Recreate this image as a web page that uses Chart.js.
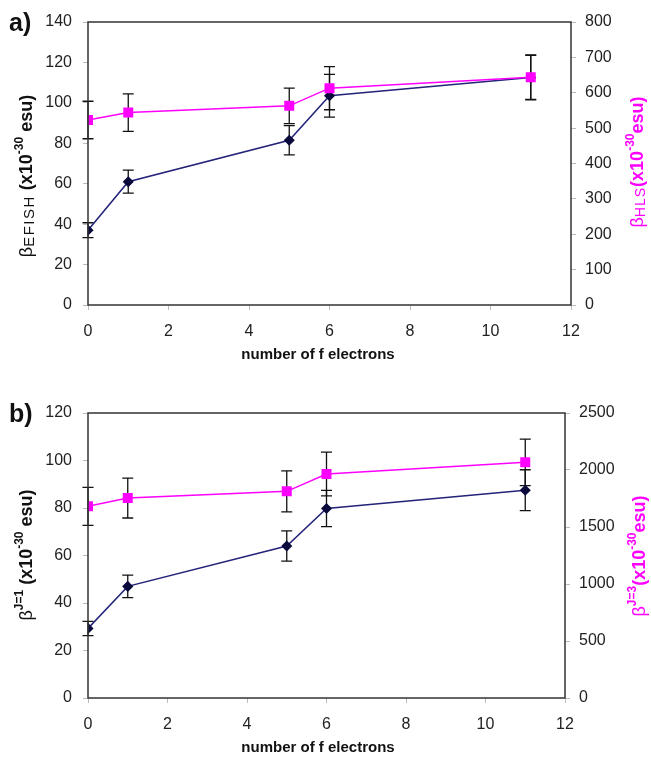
<!DOCTYPE html>
<html>
<head>
<meta charset="utf-8">
<script src="https://cdn.jsdelivr.net/npm/chart.js@4.4.1/dist/chart.umd.min.js"></script>
<style>
  body { margin: 0; background: #fff; }
  .panel { position: absolute; left: 0; width: 651px; }
  #wrapA { top: 0; height: 365px; }
  #wrapB { top: 365px; height: 400px; }
</style>
</head>
<body>
<div class="panel" id="wrapA"><canvas id="chartA"></canvas></div>
<div class="panel" id="wrapB"><canvas id="chartB"></canvas></div>
<script>
// number of f electrons
const fElectrons = [0, 1, 5, 6, 11];

// panel a
const betaEFISH = [37, 61, 81.5, 103.5, 112.5];
const betaEFISHErr = [3.7, 5.7, 7.2, 10.6, 11];
const betaHLS = [523, 544, 563, 613, 644];
const betaHLSErr = [53, 53, 50, 61, 63];

// panel b
const betaJ1 = [29.3, 47, 64, 79.8, 87.5];
const betaJ1Err = [3, 4.7, 6.4, 7.6, 8.6];
const betaJ3 = [1681, 1754, 1813, 1965, 2067];
const betaJ3Err = [167, 175, 180, 192, 204];

const FONT = '"Liberation Sans", Arial, sans-serif';
const NAVY_LINE = '#23237a';
const NAVY_DOT = '#0a0a3c';
const MAGENTA = '#ff00ff';

function points(ys) {
    return fElectrons.map((x, i) => ({ x: x, y: ys[i] }));
}

// draws a line of text made of pieces (sub/superscripts), centered at x,y
function drawRich(ctx, pieces, x, y, rot, color) {
    ctx.save();
    ctx.translate(x, y);
    ctx.rotate(rot);
    ctx.fillStyle = color;
    ctx.textBaseline = 'middle';
    ctx.textAlign = 'left';
    const widthOf = p => {
        ctx.font = p.font;
        const sp = p.spacing || 0;
        return ctx.measureText(p.text).width + sp * p.text.length;
    };
    let total = 0;
    pieces.forEach(p => { total += widthOf(p); });
    let cx = -total / 2;
    pieces.forEach(p => {
        ctx.font = p.font;
        if (p.spacing) {
            for (const ch of p.text) {
                ctx.fillText(ch, cx, p.dy || 0);
                cx += ctx.measureText(ch).width + p.spacing;
            }
        } else {
            ctx.fillText(p.text, cx, p.dy || 0);
            cx += ctx.measureText(p.text).width;
        }
    });
    ctx.restore();
}

const errorBars = {
    id: 'errorBars',
    beforeDatasetsDraw(chart) {
        const ctx = chart.ctx;
        const xs = chart.scales.x;
        ctx.save();
        ctx.strokeStyle = '#111';
        ctx.lineWidth = 1.3;
        chart.data.datasets.forEach(ds => {
            const ys = chart.scales[ds.yAxisID];
            ds.data.forEach((p, i) => {
                const e = ds.err[i];
                const px = xs.getPixelForValue(p.x);
                const top = ys.getPixelForValue(p.y + e);
                const bot = ys.getPixelForValue(p.y - e);
                ctx.beginPath();
                ctx.moveTo(px, top); ctx.lineTo(px, bot);
                ctx.moveTo(px - 5.5, top); ctx.lineTo(px + 5.5, top);
                ctx.moveTo(px - 5.5, bot); ctx.lineTo(px + 5.5, bot);
                ctx.stroke();
            });
        });
        ctx.restore();
    }
};

const frameAndText = {
    id: 'frameAndText',
    afterDraw(chart) {
        const ctx = chart.ctx;
        const a = chart.chartArea;
        const o = chart.options.plugins.frameAndText;
        ctx.save();
        ctx.strokeStyle = '#333';
        ctx.lineWidth = 1.5;
        ctx.strokeRect(a.left, a.top, a.right - a.left, a.bottom - a.top);
        ctx.fillStyle = '#111';
        ctx.font = 'bold 25px ' + FONT;
        ctx.textBaseline = 'middle';
        ctx.textAlign = 'left';
        ctx.fillText(o.tag, 9, a.top + 2);
        ctx.font = 'bold 15px ' + FONT;
        ctx.textAlign = 'center';
        ctx.fillText('number of f electrons', 318, o.xTitleY);
        ctx.restore();
        drawRich(ctx, o.leftTitle, 27, o.leftY, -Math.PI / 2, '#111');
        drawRich(ctx, o.rightTitle, o.rightX, o.rightY, -Math.PI / 2, MAGENTA);
    }
};

function makeChart(id, cfg) {
    const fixW = w => (s => { s.width = w; });
    const tickFont = { family: FONT, size: 16 };
    return new Chart(document.getElementById(id), {
        type: 'line',
        data: {
            datasets: [
                {
                    data: points(cfg.right), err: cfg.rightErr, yAxisID: 'y2',
                    borderColor: MAGENTA, backgroundColor: MAGENTA, borderWidth: 1.5,
                    pointStyle: 'rect', pointRadius: 6, pointHoverRadius: 6, tension: 0
                },
                {
                    data: points(cfg.left), err: cfg.leftErr, yAxisID: 'y',
                    borderColor: NAVY_LINE, backgroundColor: NAVY_DOT, borderWidth: 1.5,
                    pointBorderColor: NAVY_DOT,
                    pointStyle: 'rectRot', pointRadius: 4.5, pointHoverRadius: 4.5, tension: 0
                }
            ]
        },
        options: {
            responsive: true,
            maintainAspectRatio: false,
            animation: false,
            layout: { padding: { top: cfg.top, left: 0, right: 0, bottom: 0 } },
            plugins: {
                legend: { display: false },
                tooltip: { enabled: false },
                frameAndText: cfg.text
            },
            scales: {
                x: {
                    type: 'linear', min: 0, max: 12,
                    ticks: { stepSize: 2, color: '#222', font: tickFont, padding: 12 },
                    grid: { drawOnChartArea: false, tickLength: 5, color: '#bbb' },
                    border: { display: false },
                    afterFit: s => { s.height = cfg.xHeight; }
                },
                y: {
                    position: 'left', min: 0, max: cfg.leftMax,
                    ticks: { stepSize: 20, color: '#222', font: tickFont, padding: 11 },
                    grid: { drawOnChartArea: false, tickLength: 5, color: '#bbb' },
                    border: { display: false },
                    afterFit: fixW(88)
                },
                y2: {
                    position: 'right', min: 0, max: cfg.rightMax,
                    ticks: {
                        stepSize: cfg.rightStep, color: '#222', font: tickFont, padding: 9,
                        callback: v => String(v)
                    },
                    grid: { drawOnChartArea: false, tickLength: 5, color: '#bbb' },
                    border: { display: false },
                    afterFit: fixW(cfg.rightW)
                }
            }
        },
        plugins: [errorBars, frameAndText]
    });
}

const beta = '18px ' + FONT;
const bold = 'bold 18px ' + FONT;
const sup = 'bold 12px ' + FONT;

makeChart('chartA', {
    left: betaEFISH, leftErr: betaEFISHErr, right: betaHLS, rightErr: betaHLSErr,
    leftMax: 140, rightMax: 800, rightStep: 100,
    top: 22, xHeight: 60, rightW: 80,
    text: {
        tag: 'a)', xTitleY: 355,
        leftY: 176, rightX: 638, rightY: 162,
        leftTitle: [
            { text: 'β', font: beta },
            { text: 'EFISH', font: '15px ' + FONT, dy: 3, spacing: 1.5 },
            { text: ' (x10', font: bold },
            { text: '-30', font: sup, dy: -7 },
            { text: ' esu)', font: bold }
        ],
        rightTitle: [
            { text: 'β', font: beta },
            { text: 'HLS', font: '14px ' + FONT, dy: 3, spacing: 1 },
            { text: '(x10', font: bold },
            { text: '-30', font: sup, dy: -7 },
            { text: 'esu)', font: bold }
        ]
    }
});

makeChart('chartB', {
    left: betaJ1, leftErr: betaJ1Err, right: betaJ3, rightErr: betaJ3Err,
    leftMax: 120, rightMax: 2500, rightStep: 500,
    top: 48, xHeight: 67, rightW: 86,
    text: {
        tag: 'b)', xTitleY: 383,
        leftY: 190, rightX: 640, rightY: 191,
        leftTitle: [
            { text: 'β', font: beta },
            { text: 'J=1', font: sup, dy: -7 },
            { text: ' (x10', font: bold },
            { text: '-30', font: sup, dy: -7 },
            { text: ' esu)', font: bold }
        ],
        rightTitle: [
            { text: 'β', font: beta },
            { text: 'J=3', font: sup, dy: -7 },
            { text: '(x10', font: bold },
            { text: '-30', font: sup, dy: -7 },
            { text: 'esu)', font: bold }
        ]
    }
});
</script>
</body>
</html>
